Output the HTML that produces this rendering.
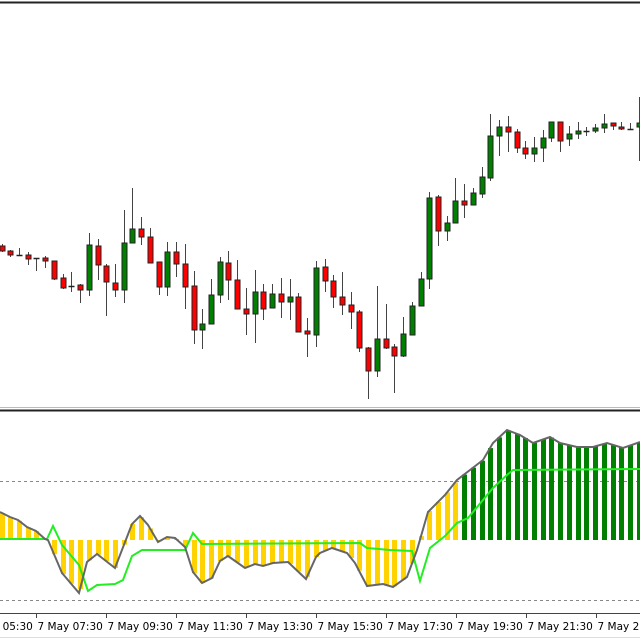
<!DOCTYPE html>
<html><head><meta charset="utf-8"><style>
html,body{margin:0;padding:0;background:#fff;width:640px;height:640px;overflow:hidden}
svg{display:block}
text{font-family:"DejaVu Sans","Liberation Sans",sans-serif;font-size:10.5px;fill:#000}
</style></head><body>
<svg id="s" width="640" height="640" xmlns="http://www.w3.org/2000/svg">
<rect x="0" y="0" width="640" height="640" fill="#fff"/>
<line x1="0" y1="2.5" x2="640" y2="2.5" stroke="#222" stroke-width="2"/>
<line x1="0" y1="407.5" x2="640" y2="407.5" stroke="#bbb" stroke-width="1"/>
<line x1="0" y1="410.5" x2="640" y2="410.5" stroke="#222" stroke-width="2"/>
<line x1="0" y1="481.5" x2="640" y2="481.5" stroke="#888" stroke-dasharray="3,3"/>
<line x1="0" y1="600.5" x2="640" y2="600.5" stroke="#888" stroke-dasharray="3,3"/>
<g id="hist"></g>
<g id="lines"></g>
<g id="candles"></g>
<line x1="0" y1="613.5" x2="640" y2="613.5" stroke="#444" stroke-width="1"/>
<g id="axis"></g>
<line x1="0" y1="637.5" x2="640" y2="637.5" stroke="#ddd" stroke-width="1"/>
</svg>
<script>
var NS="http://www.w3.org/2000/svg";
function el(p,t,a){var e=document.createElementNS(NS,t);for(var k in a)e.setAttribute(k,a[k]);p.appendChild(e);return e;}
var C=[[246,251,244,252],[251,255,250,257],[255,255,248,256],[255,259,252,265],[258,258,258,271],[258,261,256,268],[261,279,261,280],[278,288,274,289],[286,286,272,292],[285,290,284,303],
[290,245,233,296],[246,265,239,280],[266,282,264,316],[283,290,264,297],[290,243,210,303],[243,229,188,243],[229,237,217,245],[237,263,228,263],[262,287,262,295],[287,252,242,296],
[252,264,242,277],[264,287,244,309],[286,330,271,344],[330,324,309,349],[324,295,279,324],[295,262,257,303],[263,280,251,300],[280,309,260,309],[309,314,288,335],[314,292,270,343],
[292,309,284,320],[308,294,284,308],[294,302,278,318],[302,297,279,320],[297,332,293,332],[331,334,318,357],[335,268,261,347],[267,281,259,292],[281,297,275,308],[297,305,272,315],
[305,312,292,329],[312,348,310,352],[348,371,347,399],[371,339,286,377],[339,348,304,349],[347,356,344,393],[356,334,317,357],[335,306,302,335],[306,279,272,306],[279,198,192,289],
[197,231,195,246],[231,223,216,241],[223,201,178,223],[201,205,184,218],[205,193,188,205],[194,177,167,198],[178,136,114,181],[136,127,120,156],[127,132,116,152],[132,148,129,153],
[148,154,141,159],[154,148,137,162],[148,138,130,162],[138,122,122,142],[122,141,122,152],[139,134,126,146],[134,131,122,139],[131,131,127,136],[131,128,124,133],[128,124,114,133],
[123,126,123,130],[127,129,122,130],[129,129,123,130],[127,123,97,161]];
function X(i){return 1.5+8.73*i;}
var gc=document.getElementById('candles');
C.forEach(function(c,i){var x=Math.round(X(i))+0.5;
 el(gc,'line',{x1:x,y1:c[2],x2:x,y2:c[3],stroke:'#444','stroke-width':1});
 var t=Math.min(c[0],c[1]),b=Math.max(c[0],c[1]);
 if(b-t<1){el(gc,'line',{x1:x-3,y1:t+0.5,x2:x+3,y2:t+0.5,stroke:'#222','stroke-width':1.5});}
 else el(gc,'rect',{x:x-2.5,y:t,width:5,height:b-t,fill:c[1]<c[0]?'#008000':'#ff0000',stroke:'#222','stroke-width':1});
});
var G=[[0,512],[10,517],[18,520],[27,527],[36,531],[45,539],[48,540],[62,573],[79,593],[87,562],[97,554],[115,568],[132,524],[140,516],[148,525],[158,542],[167,537],[175,538],[185,547],[193,572],[202,583],[212,578],[220,561],[228,556],[245,568],[255,564],[263,566],[273,563],[288,562],[306,579],[316,557],[320,553],[332,548],[347,553],[355,563],[367,586],[383,584],[393,587],[407,577],[417,550],[428,512],[445,495],[457,480],[470,470],[483,460],[493,443],[507,430],[520,435],[533,443],[550,437],[560,443],[577,447],[593,447],[607,443],[623,448],[640,442]];
var L=[[0,539],[47,539],[53,526],[62,545],[79,565],[88,591],[97,585],[115,584],[123,580],[132,556],[142,550],[185,550],[193,533],[202,544],[360,543],[367,548],[390,550],[412,551],[420,581],[430,548],[445,536],[457,523],[468,518],[483,500],[493,488],[507,475],[513,470],[640,469]];
function interp(P,x){for(var k=1;k<P.length;k++){if(x<=P[k][0]){var a=P[k-1],b=P[k];return a[1]+(b[1]-a[1])*(x-a[0])/(b[0]-a[0]);}}return P[P.length-1][1];}
var gh=document.getElementById('hist');
for(var i=0;i<74;i++){var x=Math.round(X(i));var v=interp(G,x);var t=Math.min(v,540),b=Math.max(v,540);
 el(gh,'rect',{x:x-2,y:t,width:5,height:b-t,fill:i>=53?'#007f00':'#ffd200'});}
var gl=document.getElementById('lines');
el(gl,'polyline',{points:L.map(function(p){return p.join(',')}).join(' '),fill:'none',stroke:'#22ee22','stroke-width':2});
el(gl,'polyline',{points:G.map(function(p){return p.join(',')}).join(' '),fill:'none',stroke:'#666','stroke-width':2});
var ga=document.getElementById('axis');
var labs=['05:30','07:30','09:30','11:30','13:30','15:30','17:30','19:30','21:30','23:30'];
labs.forEach(function(s,k){var x=Math.round(-34+70*k)+0.5;
 el(ga,'line',{x1:x,y1:614,x2:x,y2:618,stroke:'#444'});
 var t=el(ga,'text',{x:x+1,y:630});t.textContent='7 May '+s;});
</script>
</body></html>
